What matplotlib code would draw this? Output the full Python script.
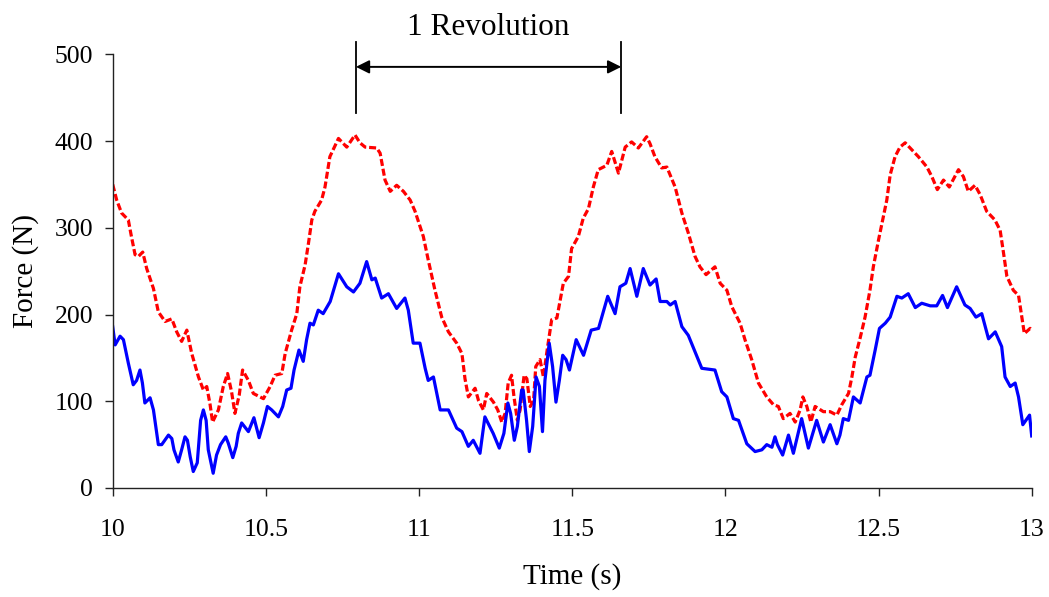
import matplotlib
matplotlib.use("Agg")
import matplotlib.pyplot as plt

# Force traces over three seconds of pedalling
time_blue = [
    10.000, 10.008, 10.024, 10.035, 10.051, 10.067, 10.078, 10.089, 10.097, 10.105,
    10.122, 10.133, 10.149, 10.160, 10.182, 10.193, 10.200, 10.214, 10.225, 10.236,
    10.244, 10.253, 10.263, 10.276, 10.287, 10.296, 10.305, 10.312, 10.328, 10.339,
    10.352, 10.369, 10.377, 10.392, 10.403, 10.410, 10.421, 10.443, 10.461, 10.478,
    10.492, 10.505, 10.519, 10.541, 10.555, 10.568, 10.582, 10.592, 10.608, 10.622,
    10.633, 10.644, 10.655, 10.671, 10.687, 10.710, 10.737, 10.764, 10.786, 10.807,
    10.829, 10.846, 10.857, 10.878, 10.900, 10.927, 10.954, 10.965, 10.981, 11.003,
    11.020, 11.030, 11.047, 11.069, 11.096, 11.123, 11.140, 11.161, 11.177, 11.199,
    11.215, 11.242, 11.262, 11.277, 11.290, 11.299, 11.311, 11.321, 11.335, 11.340,
    11.351, 11.360, 11.371, 11.382, 11.393, 11.403, 11.411, 11.425, 11.436, 11.447,
    11.458, 11.469, 11.480, 11.491, 11.513, 11.537, 11.562, 11.586, 11.616, 11.640,
    11.656, 11.675, 11.689, 11.711, 11.732, 11.754, 11.774, 11.787, 11.809, 11.820,
    11.836, 11.858, 11.879, 11.923, 11.966, 11.988, 12.005, 12.026, 12.043, 12.070,
    12.097, 12.119, 12.135, 12.152, 12.162, 12.170, 12.187, 12.206, 12.222, 12.249,
    12.271, 12.298, 12.320, 12.342, 12.364, 12.374, 12.385, 12.402, 12.418, 12.440,
    12.462, 12.472, 12.489, 12.503, 12.522, 12.538, 12.560, 12.576, 12.597, 12.620,
    12.641, 12.669, 12.690, 12.709, 12.725, 12.755, 12.782, 12.799, 12.818, 12.837,
    12.859, 12.881, 12.902, 12.913, 12.930, 12.946, 12.957, 12.971, 12.993, 13.000,
]
force_blue = [
    186, 165, 175, 171, 144, 119, 124, 136, 121, 98,
    104, 90, 50, 50, 61, 57, 44, 30, 44, 59,
    55, 36, 19, 29, 78, 90, 78, 44, 17, 38,
    50, 59, 52, 35, 48, 63, 75, 65, 81, 58,
    75, 94, 90, 82, 94, 113, 115, 136, 159, 146,
    171, 190, 188, 205, 201, 215, 247, 232, 226, 236,
    261, 240, 242, 219, 224, 207, 219, 205, 167, 167,
    138, 124, 128, 90, 90, 69, 65, 48, 55, 40,
    82, 63, 46, 63, 98, 86, 55, 71, 113, 113,
    78, 42, 71, 128, 117, 65, 124, 167, 140, 99,
    124, 153, 148, 136, 171, 153, 182, 184, 221, 201,
    232, 236, 253, 221, 253, 234, 241, 215, 215, 211,
    215, 186, 176, 138, 136, 111, 105, 80, 78, 51,
    42, 44, 50, 47, 59, 50, 38, 61, 40, 80,
    46, 78, 53, 73, 51, 61, 80, 78, 105, 98,
    128, 130, 159, 184, 190, 197, 221, 219, 224, 208,
    213, 210, 210, 222, 208, 232, 211, 207, 197, 201,
    172, 180, 163, 128, 117, 121, 105, 73, 84, 60,
]

time_red = [
    10.000, 10.013, 10.029, 10.051, 10.060, 10.073, 10.084, 10.098, 10.111, 10.133,
    10.149, 10.171, 10.193, 10.209, 10.225, 10.242, 10.258, 10.280, 10.296, 10.307,
    10.318, 10.326, 10.345, 10.361, 10.375, 10.388, 10.399, 10.413, 10.424, 10.443,
    10.459, 10.492, 10.514, 10.530, 10.552, 10.563, 10.584, 10.601, 10.611, 10.628,
    10.639, 10.650, 10.660, 10.682, 10.693, 10.709, 10.737, 10.764, 10.791, 10.807,
    10.824, 10.862, 10.873, 10.889, 10.906, 10.927, 10.949, 10.971, 10.987, 11.014,
    11.030, 11.052, 11.074, 11.096, 11.123, 11.140, 11.150, 11.161, 11.183, 11.194,
    11.210, 11.221, 11.243, 11.257, 11.270, 11.281, 11.291, 11.302, 11.310, 11.321,
    11.330, 11.343, 11.352, 11.363, 11.374, 11.381, 11.395, 11.406, 11.419, 11.433,
    11.450, 11.471, 11.488, 11.498, 11.520, 11.536, 11.553, 11.569, 11.585, 11.613,
    11.629, 11.651, 11.673, 11.694, 11.716, 11.743, 11.754, 11.770, 11.792, 11.809,
    11.836, 11.858, 11.879, 11.901, 11.917, 11.937, 11.966, 11.983, 12.005, 12.021,
    12.048, 12.064, 12.086, 12.108, 12.135, 12.157, 12.173, 12.189, 12.211, 12.228,
    12.244, 12.253, 12.266, 12.279, 12.293, 12.320, 12.342, 12.364, 12.380, 12.402,
    12.413, 12.424, 12.440, 12.456, 12.472, 12.483, 12.500, 12.516, 12.527, 12.538,
    12.554, 12.570, 12.587, 12.614, 12.630, 12.658, 12.674, 12.692, 12.712, 12.731,
    12.761, 12.777, 12.793, 12.815, 12.832, 12.853, 12.880, 12.897, 12.908, 12.919,
    12.940, 12.957, 12.968, 12.976, 12.995, 13.000,
]
force_red = [
    350, 332, 317, 309, 292, 269, 267, 272, 253, 230,
    203, 192, 195, 180, 169, 182, 155, 128, 113, 117,
    96, 76, 90, 117, 132, 111, 86, 107, 136, 124,
    109, 103, 117, 130, 132, 155, 182, 201, 232, 257,
    282, 309, 319, 332, 347, 382, 403, 393, 407, 398,
    393, 392, 386, 355, 342, 349, 342, 332, 319, 290,
    263, 228, 197, 180, 167, 155, 126, 105, 115, 101,
    90, 109, 99, 90, 76, 86, 121, 130, 105, 78,
    90, 130, 126, 94, 101, 140, 148, 128, 161, 194,
    196, 236, 244, 276, 290, 311, 322, 347, 367, 372,
    388, 363, 393, 399, 392, 405, 397, 382, 369, 370,
    347, 317, 294, 267, 255, 246, 255, 236, 228, 209,
    190, 171, 148, 121, 105, 96, 94, 80, 86, 76,
    90, 105, 94, 76, 94, 88, 88, 84, 96, 109,
    128, 151, 173, 197, 228, 255, 286, 313, 332, 361,
    382, 393, 398, 388, 382, 370, 359, 344, 355, 347,
    367, 359, 342, 349, 338, 319, 309, 297, 271, 244,
    228, 222, 197, 178, 184, 182,
]

x_ticks = [10, 10.5, 11, 11.5, 12, 12.5, 13]
x_tick_labels = ["10", "10.5", "11", "11.5", "12", "12.5", "13"]
y_ticks = [0, 100, 200, 300, 400, 500]

# one crank revolution, start and end time
rev_start, rev_end = 10.794, 11.660

W, H = 1049, 597
plt.rcParams["font.family"] = ["Liberation Serif", "DejaVu Serif"]
fig = plt.figure(figsize=(W / 100, H / 100), dpi=100)

ax = fig.add_axes([112.7 / W, 1 - 488 / H, 919 / W, (488 - 54.3) / H])

ax.plot(time_red, force_red, color="#ff0000", lw=2.3,
        linestyle=(0, (2.2, 0.9)), solid_joinstyle="round")
ax.plot(time_blue, force_blue, color="#0000ff", lw=2.3,
        solid_joinstyle="round")

ax.set_xlim(10, 13)
ax.set_ylim(0, 500)
ax.set_xticks(x_ticks)
ax.set_xticklabels(x_tick_labels)
ax.set_yticks(y_ticks)

for side in ("top", "right"):
    ax.spines[side].set_visible(False)
for side in ("left", "bottom"):
    ax.spines[side].set_linewidth(1.0)
    ax.spines[side].set_color("#222222")

ax.tick_params(axis="both", direction="out", length=6, width=1.0,
               colors="#222222", labelcolor="black", labelsize=18.5)
ax.tick_params(axis="x", pad=16)
ax.tick_params(axis="y", pad=8)

ax.set_xlabel("Time (s)", fontsize=21)
ax.set_ylabel("Force (N)", fontsize=21)
ax.xaxis.label.set_va("center")
ax.yaxis.label.set_va("center")
ax.xaxis.set_label_coords(0.5, (488 - 577) / (488 - 54.3))
ax.yaxis.set_label_coords((26 - 112.7) / 919, 0.5)

# revolution marker above the second peak
for t in (rev_start, rev_end):
    ax.plot([t, t], [432, 514.5], color="black", lw=1.3, clip_on=False)
ax.annotate("", xy=(rev_start, 485.5), xytext=(rev_end, 485.5),
            arrowprops=dict(arrowstyle="<|-|>", color="black", lw=1.4,
                            mutation_scale=20, shrinkA=0, shrinkB=0),
            annotation_clip=False)
ax.text((rev_start + rev_end) / 2, 522, "1 Revolution", fontsize=22.5,
        ha="center", va="baseline", clip_on=False)

fig.savefig("out.png", dpi=100)
